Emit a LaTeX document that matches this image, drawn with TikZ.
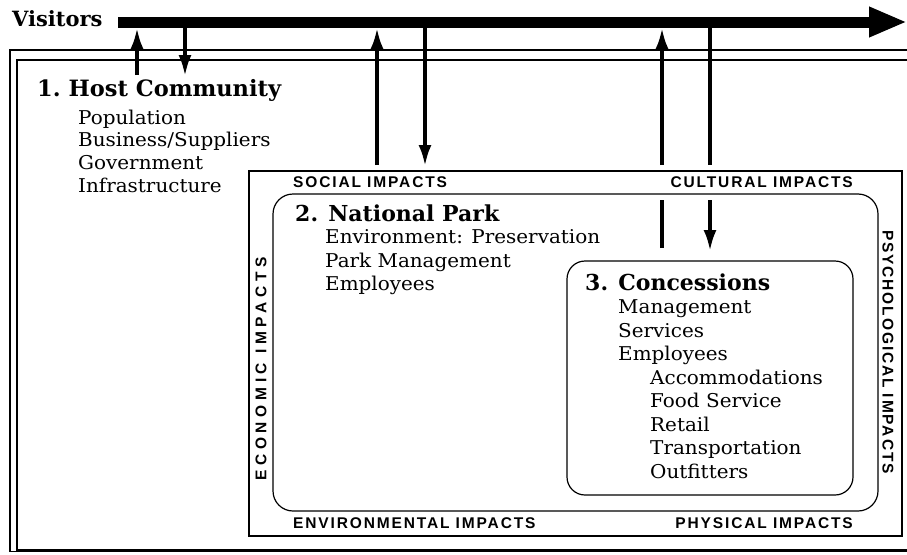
\documentclass[tikz,border=0pt]{standalone}
\usepackage{fontspec}
\setmainfont{DejaVu Serif}
\newfontfamily\bodyfont[FakeStretch=1.05]{DejaVu Serif}
\newfontfamily\impfont[LetterSpace=12]{Liberation Sans}
\newfontfamily\ecofont[LetterSpace=30]{Liberation Sans}
\usetikzlibrary{arrows.meta}
\tikzset{
  ttl/.style={font=\bfseries\fontsize{22}{26}\selectfont, anchor=base west, inner sep=0pt},
  itm/.style={font=\bodyfont\fontsize{19}{22}\selectfont, anchor=base west, inner sep=0pt},
  impact/.style={font=\impfont\bfseries\fontsize{15.5}{17}\selectfont, inner sep=0pt},
  framel/.style={line width=1.2pt},
  boxl/.style={line width=1.2pt},
  flow/.style={line width=3.5pt, -{Latex[length=21pt,width=13pt]}},
  flowline/.style={line width=3.5pt}
}
\begin{document}
\begin{tikzpicture}[x=1pt,y=-1pt]
\useasboundingbox (0,0) rectangle (907,554);
% outer double frame
\draw[framel] (907,50) -- (10,50) -- (10,551.5) -- (907,551.5);
\draw[framel] (907,60) -- (17,60) -- (17,550) -- (907,550);
% impacts box, park box, concessions box
\draw[boxl] (249,171) rectangle (902,536);
\draw[boxl, rounded corners=20pt] (273,194) rectangle (878,511);
\draw[boxl, rounded corners=18pt] (567,261) rectangle (853,495);
% visitors
\node[ttl, font=\bfseries\fontsize{21}{25}\selectfont] (vis) at (12,27) {Visitors};
\coordinate (barS) at (118,22);
\coordinate (barE) at (907,22);
\draw[line width=11pt, -{Triangle[length=38pt,width=28pt]}] (barS) -- (barE);
% host community
\node[ttl, font=\bfseries\fontsize{22.5}{26}\selectfont] (host) at (37,96) {1.\hspace{8pt}Host Community};
\node[itm] (h1) at (78,124) {Population};
\node[itm] (h2) at (78,146.5) {Business/Suppliers};
\node[itm] (h3) at (78,169) {Government};
\node[itm] (h4) at (78,192) {Infrastructure};
% national park
\node[ttl] (park) at (295,221) {2. National Park};
\node[itm] (p1) at (325,243.5) {Environment: Preservation};
\node[itm] (p2) at (325,267) {Park Management};
\node[itm] (p3) at (325,290.5) {Employees};
% concessions
\node[ttl] (conc) at (585,290) {3. Concessions};
\node[itm] (c1) at (618,313.5) {Management};
\node[itm] (c2) at (618,337) {Services};
\node[itm] (c3) at (618,360.5) {Employees};
\node[itm] (c4) at (650,384) {Accommodations};
\node[itm] (c5) at (650,407.5) {Food Service};
\node[itm] (c6) at (650,431) {Retail};
\node[itm] (c7) at (650,454.5) {Transportation};
\node[itm] (c8) at (650,478) {Outfitters};
% impacts labels
\node[impact, anchor=base west] (soc) at (293,187.5) {SOCIAL IMPACTS};
\node[impact, anchor=base east] (cul) at (853,187.5) {CULTURAL IMPACTS};
\node[impact, anchor=base west] (env) at (293,528.5) {ENVIRONMENTAL IMPACTS};
\node[impact, anchor=base east] (phy) at (853,528.5) {PHYSICAL IMPACTS};
\node[impact, font=\ecofont\bfseries\fontsize{15.5}{17}\selectfont, rotate=90] (eco) at (261,369) {ECONOMIC IMPACTS};
\node[impact, rotate=-90] (psy) at (888,352) {PSYCHOLOGICAL IMPACTS};
% flow arrows
\coordinate (a1s) at (137,75);  \coordinate (a1e) at (137,28);
\coordinate (b1s) at (185,27);  \coordinate (b1e) at (185,76);
\coordinate (a2s) at (377,165); \coordinate (a2e) at (377,28);
\coordinate (b2s) at (425,27);  \coordinate (b2e) at (425,166);
\coordinate (a3s) at (662,248); \coordinate (a3m) at (662,200);
\coordinate (a3n) at (662,165); \coordinate (a3e) at (662,28);
\coordinate (b3s) at (710,27);  \coordinate (b3m) at (710,165);
\coordinate (b3n) at (710,200); \coordinate (b3e) at (710,251);
\draw[flow] (a1s) -- (a1e);
\draw[flow] (b1s) -- (b1e);
\draw[flow] (a2s) -- (a2e);
\draw[flow] (b2s) -- (b2e);
\draw[flowline] (a3s) -- (a3m);
\draw[flow] (a3n) -- (a3e);
\draw[flowline] (b3s) -- (b3m);
\draw[flow] (b3n) -- (b3e);
\end{tikzpicture}
\end{document}
